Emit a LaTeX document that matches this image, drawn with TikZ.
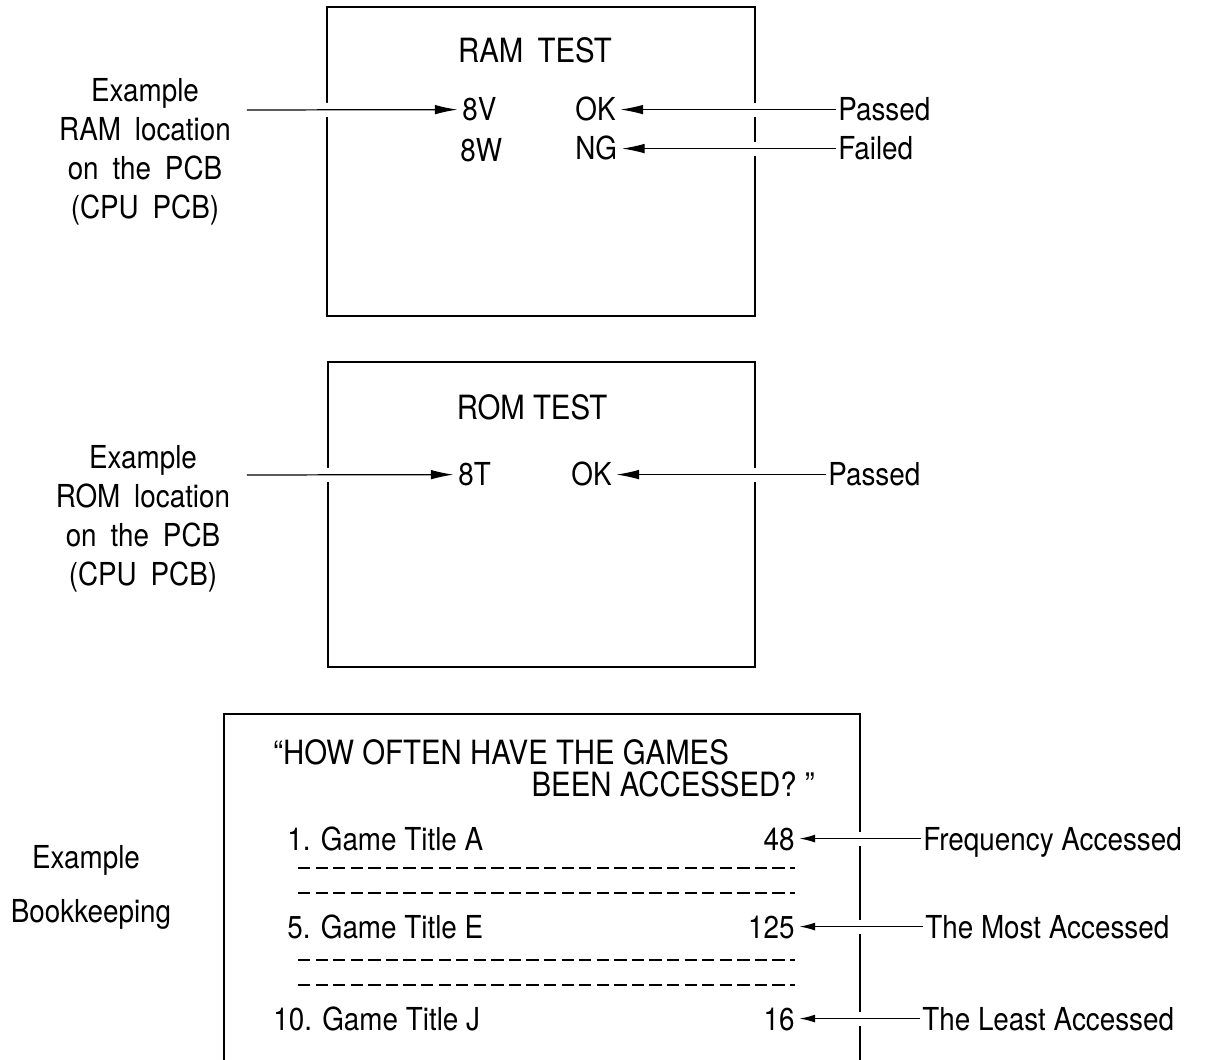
\documentclass[tikz,border=0pt]{standalone}
\usepackage{fontspec}
\setmainfont{TeX Gyre Heros}[FakeStretch=0.88]
\usetikzlibrary{arrows.meta}
\newcommand\wsp{\ \hspace{3.5pt}}

\begin{document}
\begin{tikzpicture}[x=0.02cm,y=-0.02cm,
    screen/.style={line width=1.1pt},
    lbl/.style={font=\fontsize{18}{21}\selectfont,inner sep=0pt},
    item/.style={lbl,text height=13pt,text depth=0pt},
    side/.style={lbl,align=center,font=\fontsize{18}{22.3}\selectfont},
    arr/.style={-{Latex[length=13pt,width=5.5pt]},line width=0.7pt,shorten >=2.5pt,shorten <=1pt,
        preaction={draw=white,line width=8pt,-}},
    sarr/.style={arr,-{Latex[length=9pt,width=4.5pt]}},
    dots/.style={line width=1pt,dash pattern=on 7pt off 3pt}]
    \useasboundingbox (0,0) rectangle (1207,1060);
    \draw[screen] (327,7) rectangle (755,316);
    \draw[screen] (328,362) rectangle (755,667);
    \draw[screen] (224,1060) -- (224,714) -- (860,714) -- (860,1060);

    \node[item,anchor=base,font=\fontsize{19}{21}\selectfont] (ramt) at (535,63) {RAM\wsp TEST};
    \node[item,anchor=base west] (v8) at (462,121) {8V};
    \node[item,anchor=base west] (w8) at (460,162) {8W};
    \node[item,anchor=base west] (ramok) at (575,121) {OK};
    \node[item,anchor=base west] (ramng) at (575,160) {NG};
    \node[item,anchor=base west] (pass1) at (838,121) {Passed};
    \node[item,anchor=base west] (fail1) at (838,160) {Failed};
    \node[side] (ramex) at (145,152) {Example\\RAM\wsp location\\on\wsp the\wsp PCB\\(CPU\wsp PCB)};
    \coordinate (ramtail) at (245,110);
    \draw[arr] (ramtail) -- (v8);
    \draw[arr] (pass1) -- (ramok);
    \draw[arr] (fail1) -- (ramng);

    \node[item,anchor=base,font=\fontsize{19}{21}\selectfont] (romt) at (532,420) {ROM TEST};
    \node[item,anchor=base west] (t8) at (458,486) {8T};
    \node[item,anchor=base west] (romok) at (571,486) {OK};
    \node[item,anchor=base west] (pass2) at (828,486) {Passed};
    \node[side] (romex) at (143,519) {Example\\ROM\wsp location\\on\wsp the\wsp PCB\\(CPU\wsp PCB)};
    \coordinate (romtail) at (245,475);
    \draw[arr] (romtail) -- (t8);
    \draw[arr] (pass2) -- (romok);

    \node[item,anchor=base west,font=\fontsize{19}{21}\selectfont] (q1) at (273,764) {“HOW OFTEN HAVE THE GAMES};
    \node[item,anchor=base east,font=\fontsize{19}{21}\selectfont] (q2) at (815,796) {BEEN ACCESSED? ”};
    \node[item,anchor=base west] (g1) at (287,850) {1. Game Title A};
    \node[item,anchor=base east] (n1) at (795,850) {48};
    \node[item,anchor=base west] (g5) at (287,938) {5. Game Title E};
    \node[item,anchor=base east] (n5) at (795,938) {125};
    \node[item,anchor=base west] (g10) at (273,1030) {10. Game Title J};
    \node[item,anchor=base east] (n10) at (795,1030) {16};
    \foreach \y in {868,893,960,985}
        \draw[dots] (298,\y) -- (795,\y);
    \node[item,anchor=base west] (freq) at (923,850) {Frequency Accessed};
    \node[item,anchor=base west] (most) at (925,938) {The Most Accessed};
    \node[item,anchor=base west] (least) at (922,1030) {The Least Accessed};
    \draw[sarr] (freq) -- (n1);
    \draw[sarr] (most) -- (n5);
    \draw[sarr] (least) -- (n10);
    \node[item,anchor=base] (bkex) at (86,868) {Example};
    \node[item,anchor=base] (bk) at (91,922) {Bookkeeping};
\end{tikzpicture}
\end{document}
